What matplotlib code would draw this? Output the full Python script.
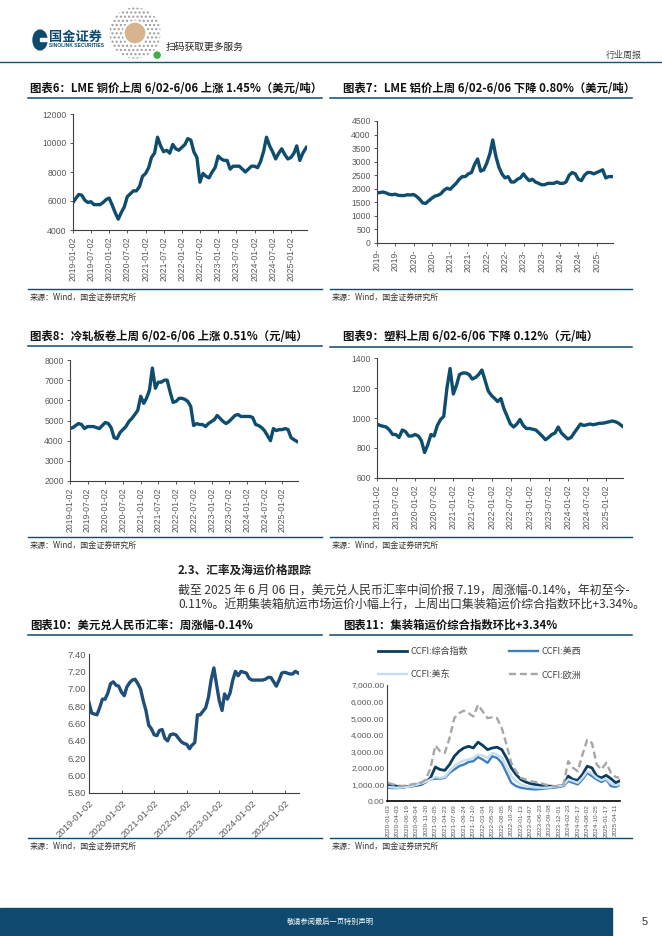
import matplotlib
matplotlib.use('Agg')
import matplotlib.pyplot as plt
from matplotlib.lines import Line2D
from matplotlib.patches import Rectangle, Circle
import matplotlib.ticker as mticker
import numpy as np
import pandas as pd

# ---------------- data ----------------
month_dates = ([pd.Timestamp('2019-01-02')]
               + list(pd.date_range('2019-02-01', '2025-05-01', freq='MS'))
               + [pd.Timestamp('2025-06-06')])

copper = [5900, 6200, 6450, 6400, 6050, 5900, 5950, 5750, 5750, 5750, 5900, 6100,
          6200, 5700, 5200, 4750, 5200, 5600, 6300, 6500, 6700, 6700, 7000, 7700,
          7900, 8300, 9000, 9300, 10400, 9800, 9400, 9500, 9300, 9900, 9600, 9500,
          9700, 9900, 10300, 10200, 9400, 9000, 7300, 7900, 7700, 7600, 8000, 8300,
          9100, 8900, 8800, 8800, 8200, 8400, 8400, 8400, 8200, 8000, 8200, 8400,
          8400, 8300, 8700, 9400, 10400, 9800, 9400, 8900, 9300, 9600, 9200, 8900,
          9000, 9300, 9800, 8800, 9300, 9700]

aluminium = [1850, 1860, 1880, 1850, 1800, 1780, 1800, 1760, 1750, 1750, 1780, 1770,
             1790, 1720, 1620, 1480, 1460, 1560, 1650, 1730, 1760, 1820, 1950, 2020,
             1980, 2100, 2200, 2350, 2450, 2450, 2550, 2600, 2900, 3100, 2650, 2700,
             2950, 3300, 3800, 3200, 2800, 2550, 2400, 2450, 2250, 2250, 2350, 2400,
             2550, 2400, 2300, 2350, 2250, 2200, 2150, 2150, 2200, 2200, 2200, 2250,
             2200, 2200, 2250, 2500, 2600, 2550, 2350, 2300, 2500, 2600, 2600, 2550,
             2600, 2650, 2700, 2400, 2450, 2450]

cold_rolled = [4600, 4650, 4750, 4850, 4800, 4600, 4700, 4700, 4700, 4650, 4600, 4750,
               4900, 4850, 4650, 4150, 4100, 4400, 4550, 4700, 4950, 5100, 5300, 5500,
               6200, 5850, 6100, 6500, 7600, 6600, 6900, 6900, 7000, 7000, 6400, 5900,
               5950, 6100, 6100, 6050, 5950, 5700, 4750, 4850, 4800, 4800, 4700, 4850,
               4950, 5050, 5250, 5100, 4950, 4850, 4950, 5100, 5250, 5300, 5200, 5200,
               5200, 5200, 5150, 4800, 4750, 4650, 4500, 4250, 4000, 4600, 4500, 4550,
               4550, 4600, 4550, 4150, 4050, 3950]

plastic = [960, 950, 945, 940, 920, 890, 890, 870, 920, 910, 880, 880,
           890, 880, 850, 770, 820, 890, 880, 950, 990, 1010, 1200, 1330,
           1160, 1220, 1290, 1300, 1300, 1290, 1260, 1270, 1290, 1320, 1250, 1180,
           1150, 1130, 1110, 1130, 1060, 1010, 960, 940, 960, 990, 950, 930,
           930, 925, 920, 900, 880, 855, 870, 890, 900, 940, 900, 880,
           860, 870, 900, 930, 960, 950, 955, 960, 955, 960, 965, 965,
           970, 975, 980, 975, 965, 945]

usdcny = [6.84, 6.72, 6.71, 6.70, 6.78, 6.88, 6.88, 6.95, 7.06, 7.08, 7.04, 7.03,
          6.96, 6.92, 7.02, 7.07, 7.10, 7.11, 7.06, 7.00, 6.86, 6.75, 6.58, 6.54,
          6.47, 6.46, 6.52, 6.53, 6.43, 6.40, 6.47, 6.48, 6.47, 6.43, 6.39, 6.37,
          6.36, 6.31, 6.35, 6.38, 6.70, 6.70, 6.74, 6.78, 6.90, 7.10, 7.24, 7.05,
          6.86, 6.75, 6.94, 6.88, 6.95, 7.10, 7.20, 7.15, 7.20, 7.19, 7.18, 7.12,
          7.10, 7.10, 7.10, 7.10, 7.10, 7.11, 7.13, 7.13, 7.08, 7.03, 7.10, 7.18,
          7.19, 7.18, 7.17, 7.17, 7.20, 7.18]

halfyear_labels = ['2019-01-02', '2019-07-02', '2020-01-02', '2020-07-02', '2021-01-02',
                   '2021-07-02', '2022-01-02', '2022-07-02', '2023-01-02', '2023-07-02',
                   '2024-01-02', '2024-07-02', '2025-01-02']
halfyear_short = ['2019-', '2019-', '2020-', '2020-', '2021-', '2021-', '2022-', '2022-',
                  '2023-', '2023-', '2024-', '2024-', '2025-']
year_labels = ['2019-01-02', '2020-01-02', '2021-01-02', '2022-01-02', '2023-01-02',
               '2024-01-02', '2025-01-02']

# CCFI (sampled every half label interval; labels every 11 weeks)
ccfi_labels = ['2020-01-03', '2020-04-03', '2020-06-19', '2020-09-04', '2020-11-20',
               '2021-02-05', '2021-04-23', '2021-07-09', '2021-09-24', '2021-12-10',
               '2022-03-04', '2022-05-20', '2022-08-05', '2022-10-28', '2023-01-13',
               '2023-04-07', '2023-06-23', '2023-09-08', '2023-12-01', '2024-02-23',
               '2024-05-17', '2024-08-02', '2024-10-25', '2025-01-17', '2025-04-11']
ccfi_comp = [1000, 950, 880, 860, 870, 900, 950, 1000, 1150, 1400,
             2050, 1900, 1850, 2200, 2700, 3000, 3200, 3300, 3200, 3550,
             3350, 3100, 3200, 3250, 3100, 2600, 2000, 1600, 1300, 1150,
             1050, 1000, 950, 900, 900, 870, 900, 950, 1500, 1300,
             1250, 1600, 2100, 2000, 1500, 1400, 1550, 1350, 1100, 1200]
ccfi_usw = [800, 780, 780, 800, 850, 900, 1000, 1100, 1200, 1300,
            1350, 1350, 1400, 1700, 1900, 2100, 2200, 2350, 2400, 2650,
            2500, 2300, 2700, 2600, 2300, 1700, 1100, 900, 800, 750,
            720, 700, 720, 750, 780, 800, 850, 900, 1200, 1100,
            1000, 1300, 1700, 1500, 1300, 1150, 1300, 900, 850, 950]
ccfi_use = [850, 820, 800, 820, 850, 900, 980, 1050, 1150, 1300,
            1450, 1400, 1450, 1800, 2100, 2300, 2450, 2500, 2600, 2800,
            2750, 2600, 2900, 2800, 2600, 2100, 1500, 1200, 1000, 900,
            850, 820, 800, 800, 820, 850, 900, 950, 1300, 1200,
            1100, 1400, 1800, 1650, 1400, 1250, 1350, 1050, 950, 1000]
ccfi_eu = [1100, 1000, 950, 900, 950, 1000, 1050, 1100, 1300, 2000,
           3350, 3000, 2900, 3800, 5000, 5300, 5450, 5300, 5100, 5800,
           5400, 5000, 5050, 5000, 4400, 3400, 2300, 1800, 1400, 1300,
           1200, 1150, 1100, 1000, 950, 900, 850, 1000, 2400, 2000,
           1800, 2800, 3700, 3500, 2200, 1900, 2300, 1700, 1450, 1400]
ccfi_names = ['CCFI:综合指数', 'CCFI:美西', 'CCFI:美东', 'CCFI:欧洲']

# ---------------- layout helpers ----------------
W, H = 662, 936
fig = plt.figure(figsize=(W / 100, H / 100), dpi=100)
plt.rcParams['font.family'] = ['Liberation Sans', 'Noto Sans CJK SC', 'DejaVu Sans']
plt.rcParams['hatch.color'] = '#8a8a8a'
CJK = ['Noto Sans CJK SC', 'DejaVu Sans']
TEAL = '#0c4a6e'
LINE = '#0e4d6e'
GREY = '#595959'


def rect(x0, y0, x1, y1):
    return [x0 / W, 1 - y1 / H, (x1 - x0) / W, (y1 - y0) / H]


def T(x, y, s, **kw):
    fig.text(x / W, 1 - y / H, s, **kw)


def hline(x0, x1, y, color=TEAL, lw=1.1):
    fig.add_artist(Line2D([x0 / W, x1 / W], [1 - y / H, 1 - y / H], color=color, lw=lw))


def style(ax, size=6.2):
    for s in ['top', 'right']:
        ax.spines[s].set_visible(False)
    for s in ['left', 'bottom']:
        ax.spines[s].set_color('#404040')
        ax.spines[s].set_linewidth(0.8)
    ax.tick_params(labelsize=size, labelcolor=GREY, color='#404040', length=2.5, width=0.6, pad=2)
    ax.set_facecolor('none')


# ---------------- header ----------------
fig.add_artist(Circle((40 / W, 1 - 40 / H), 7 / W, transform=fig.transFigure, color=TEAL))
fig.add_artist(Rectangle((40 / W, 1 - 41 / H), 8 / W, 3 / H, transform=fig.transFigure, color='white'))
T(49, 37, '国金证券', family=CJK, fontsize=9.5, weight='bold', color=TEAL, va='center')
T(49, 45.5, 'SINOLINK SECURITIES', fontsize=3.6, weight='bold', color=TEAL, va='center')
# round mini-program code
qr_ax = fig.add_axes(rect(108, 4, 162, 62))
qr_ax.set_xlim(-1, 1)
qr_ax.set_ylim(-1, 1)
qr_ax.set_aspect('equal')
qr_ax.axis('off')
qr_ax.add_patch(Circle((0, 0), 0.95, facecolor='white', edgecolor='#9a9a9a', hatch='....', lw=0))
qr_ax.add_patch(Circle((0, 0), 0.42, facecolor='#d8b48e', edgecolor='white', lw=1.5))
qr_ax.add_patch(Circle((0.82, -0.82), 0.16, facecolor='#3cb043', edgecolor='white', lw=0.8))
T(166, 47, '扫码获取更多服务', family=CJK, fontsize=7, color='#222222', va='center')
T(606, 55, '行业周报', family=CJK, fontsize=6.5, color='#444444', va='center')
hline(0, 662, 62, color='#1d4f6e', lw=1.0)


# ---------------- titles / frames ----------------
def title(x, y, s, ux0, ux1, uy):
    T(x, y, s, family=CJK, fontsize=8.2, weight='bold', color='#111111', va='center')
    hline(ux0, ux1, uy)


title(30, 88, '图表6：LME 铜价上周 6/02-6/06 上涨 1.45%（美元/吨）', 28, 322, 98)
title(343, 88, '图表7：LME 铝价上周 6/02-6/06 下降 0.80%（美元/吨）', 330, 632, 98)
title(30, 337, '图表8：冷轧板卷上周 6/02-6/06 上涨 0.51%（元/吨）', 28, 322, 346)
title(343, 337, '图表9：塑料上周 6/02-6/06 下降 0.12%（元/吨）', 330, 632, 347)
title(30, 625, '图表10：美元兑人民币汇率：周涨幅-0.14%', 28, 322, 635)
title(343, 625, '图表11：集装箱运价综合指数环比+3.34%', 330, 632, 635)

for (x0, x1, y) in [(28, 322, 289), (330, 632, 289), (28, 322, 537), (330, 632, 537),
                    (28, 322, 838), (330, 632, 838)]:
    hline(x0, x1, y, lw=1.0)
    T(x0 + 2, y + 8, '来源：Wind，国金证券研究所', family=CJK, fontsize=5.8, color='#333333', va='center')

# section text
T(178, 570, '2.3、汇率及海运价格跟踪', family=CJK, fontsize=8.4, weight='bold', color='#222222', va='center')
T(178, 590, '截至 2025 年 6 月 06 日，美元兑人民币汇率中间价报 7.19，周涨幅-0.14%，年初至今-',
  family=CJK, fontsize=8.6, color='#333333', va='center')
T(178, 605, '0.11%。近期集装箱航运市场运价小幅上行，上周出口集装箱运价综合指数环比+3.34%。',
  family=CJK, fontsize=8.6, color='#333333', va='center')

# ---------------- footer ----------------
fig.add_artist(Rectangle((0, 0), 612 / W, 28 / H, transform=fig.transFigure, color='#0f4a6e'))
T(330, 922, '敬请参阅最后一页特别声明', family=CJK, fontsize=5.2, color='white', va='center', ha='center')
T(645, 922, '5', fontsize=8, color='#333333', va='center', ha='center')

# ---------------- date charts ----------------
halfyear_ticks = pd.to_datetime(halfyear_labels)
xl = (pd.Timestamp('2019-01-02'), pd.Timestamp('2025-06-12'))


def date_chart(box, values, ylim, step, labels, color=LINE, lw=2.4):
    ax = fig.add_axes(rect(*box))
    ax.plot(month_dates, values, color=color, lw=lw, solid_joinstyle='round')
    ax.set_xlim(*xl)
    ax.set_ylim(*ylim)
    ax.set_yticks(np.arange(ylim[0], ylim[1] + step / 2, step))
    ax.set_xticks(halfyear_ticks)
    ax.set_xticklabels(labels, rotation=90)
    style(ax)
    return ax


date_chart((73, 114, 307, 230), copper, (4000, 12000), 2000, halfyear_labels)
date_chart((377, 121, 613, 243), aluminium, (0, 4500), 500, halfyear_short)
date_chart((70, 360, 298, 481), cold_rolled, (2000, 8000), 1000, halfyear_labels)
date_chart((377, 358, 623, 478), plastic, (600, 1400), 200, halfyear_labels)

ax10 = fig.add_axes(rect(89, 654, 299, 793))
ax10.plot(month_dates, usdcny, color='#1f4e79', lw=2.4, solid_joinstyle='round')
ax10.set_xlim(pd.Timestamp('2019-01-02'), pd.Timestamp('2025-06-12'))
ax10.set_ylim(5.8, 7.4)
ax10.set_yticks(np.arange(5.8, 7.41, 0.2))
ax10.yaxis.set_major_formatter(mticker.FormatStrFormatter('%.2f'))
ax10.set_xticks(pd.to_datetime(year_labels))
ax10.set_xticklabels(year_labels, rotation=45, ha='right', rotation_mode='anchor')
style(ax10, size=6.8)
ax10.tick_params(axis='x', direction='in', pad=4)
ax10.tick_params(axis='y', length=0)

# ---------------- CCFI chart ----------------
ax11 = fig.add_axes(rect(387, 685, 620, 801))
n_half = len(ccfi_comp)
pos = np.arange(n_half - 1) * 5.5
pos = np.append(pos, 268)
l1, = ax11.plot(pos, ccfi_comp, color='#0d3d5e', lw=2.0, label=ccfi_names[0])
l2, = ax11.plot(pos, ccfi_usw, color='#3d7fbf', lw=1.7, label=ccfi_names[1])
l3, = ax11.plot(pos, ccfi_use, color='#c6def2', lw=1.7, label=ccfi_names[2])
l4, = ax11.plot(pos, ccfi_eu, color='#a6a6a6', lw=1.7, ls=(0, (3, 1.6)), label=ccfi_names[3])
ax11.set_xlim(-1, 269)
ax11.set_ylim(0, 7000)
ax11.set_yticks(np.arange(0, 7001, 1000))
ax11.yaxis.set_major_formatter(mticker.FuncFormatter(lambda v, p: f'{v:,.2f}'))
ax11.set_xticks(np.arange(len(ccfi_labels)) * 11)
ax11.set_xticklabels(ccfi_labels, rotation=90)
style(ax11, size=6.0)
ax11.spines['bottom'].set_color('black')
ax11.spines['bottom'].set_linewidth(1.2)
ax11.tick_params(axis='x', length=0, labelsize=4.6, pad=2)
ax11.tick_params(axis='y', length=0)
ax11.legend(handles=[l1, l3, l2, l4], ncol=2, loc='lower left', bbox_to_anchor=(-0.06, 1.0),
            frameon=False, prop={'family': CJK, 'size': 6.5}, labelcolor='#404040',
            handlelength=3.2, handletextpad=0.4, columnspacing=4.5, labelspacing=1.6,
            borderaxespad=0.2)

fig.savefig('out.png', dpi=100)
